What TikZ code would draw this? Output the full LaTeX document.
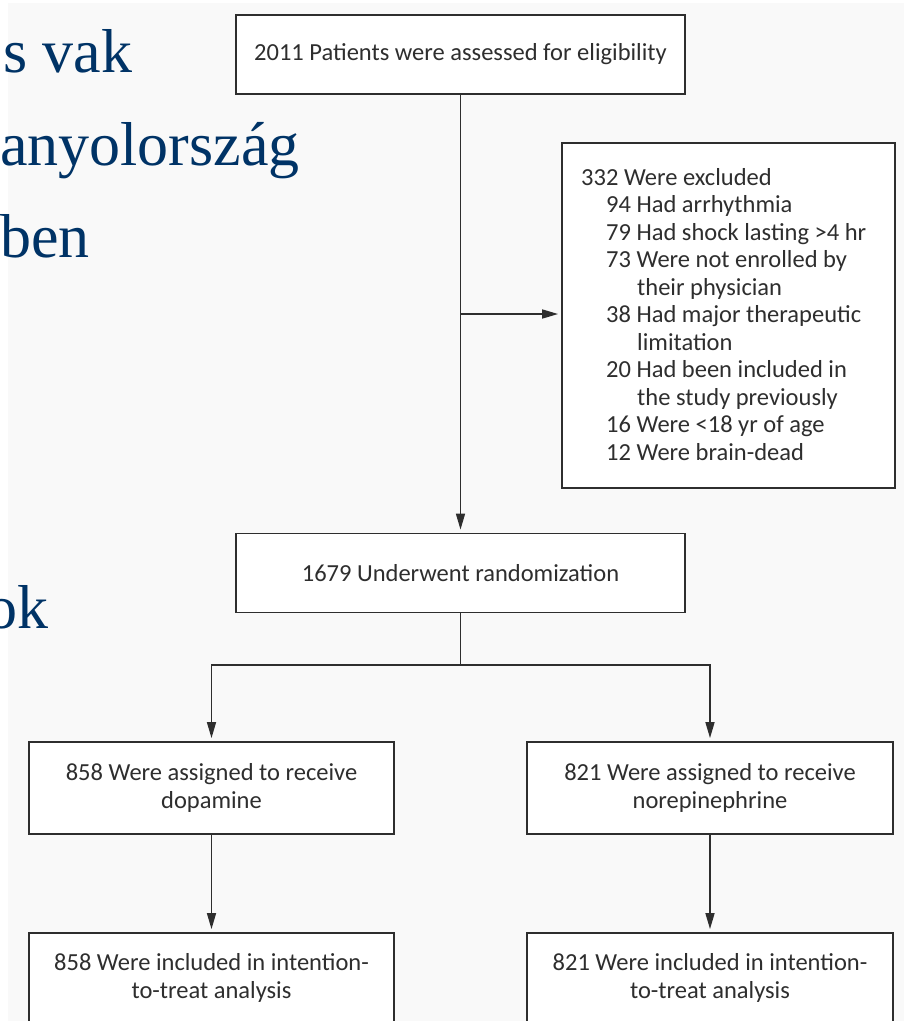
\documentclass[tikz,border=0pt]{standalone}
\usepackage{fontspec}
\setmainfont{Carlito}
\newfontfamily\serifbig{Liberation Serif}
\usetikzlibrary{arrows.meta}
\definecolor{bg}{HTML}{F9F9F9}
\definecolor{ink}{HTML}{2E2E2E}
\definecolor{slideblue}{HTML}{003366}
\begin{document}
\begin{tikzpicture}[x=1pt,y=-1pt,
  box/.style={draw=ink, line width=1.8pt, fill=white, text=ink,
    font=\fontsize{24.5}{28}\selectfont, align=center, inner sep=0pt},
  arr/.style={draw=ink, line width=1.6pt, -{Triangle[length=16pt,width=9pt]}, shorten >=3pt},
  conn/.style={draw=ink, line width=1.6pt},
  big/.style={text=slideblue, font=\serifbig\fontsize{62}{62}\selectfont, inner sep=0pt, anchor=base west}]
\useasboundingbox (0,0) rectangle (904,1021);
\clip (0,0) rectangle (904,1021);
\fill[white] (0,0) rectangle (904,1021);
\fill[bg] (8,3) rectangle (904,1021);

% partially visible slide text
\node[big] (t1) at (3,72) {s vak};
\node[big] (t2) at (0,165) {anyolország};
\node[big] (t3) at (0,257) {ben};
\node[big] (t4) at (-14,628) {ok};

% boxes
\node[box, minimum width=449pt, minimum height=79pt] (assess) at (460.5,54.5)
  {2011 Patients were assessed for eligibility};
\node[box, minimum width=333pt, minimum height=345pt] (excl) at (728.5,315.5) {};
\node[text=ink, inner sep=0pt, anchor=west, align=left,
      font=\fontsize{24.5}{27.5}\selectfont] (excltext) at (581,314.5)
  {332 Were excluded\\
   \hspace*{25pt}94 Had arrhythmia\\
   \hspace*{25pt}79 Had shock lasting >4 hr\\
   \hspace*{25pt}73 Were not enrolled by\\
   \hspace*{56pt}their physician\\
   \hspace*{25pt}38 Had major therapeutic\\
   \hspace*{56pt}limitation\\
   \hspace*{25pt}20 Had been included in\\
   \hspace*{56pt}the study previously\\
   \hspace*{25pt}16 Were <18 yr of age\\
   \hspace*{25pt}12 Were brain-dead};
\node[box, minimum width=449pt, minimum height=79pt] (rand) at (460.5,573)
  {1679 Underwent randomization};
\node[box, minimum width=365pt, minimum height=92pt] (dopa) at (211.5,788)
  {858 Were assigned to receive\\dopamine};
\node[box, minimum width=366pt, minimum height=92pt] (nore) at (710,788)
  {821 Were assigned to receive\\norepinephrine};
\node[box, minimum width=365pt, minimum height=90pt] (itt1) at (211.5,978)
  {858 Were included in intention-\\to-treat analysis};
\node[box, minimum width=366pt, minimum height=90pt] (itt2) at (710,978)
  {821 Were included in intention-\\to-treat analysis};

% connectors
\coordinate (side) at (460.5,314);
\coordinate (split) at (460.5,665);
\draw[arr] (assess.south) -- (rand.north);
\draw[arr] (side) -- (excl.west |- side);
\draw[conn] (rand.south) -- (split);
\draw[arr] (split) -| (dopa.north);
\draw[arr] (split) -| (nore.north);
\draw[arr] (dopa.south) -- (itt1.north);
\draw[arr] (nore.south) -- (itt2.north);
\end{tikzpicture}
\end{document}
